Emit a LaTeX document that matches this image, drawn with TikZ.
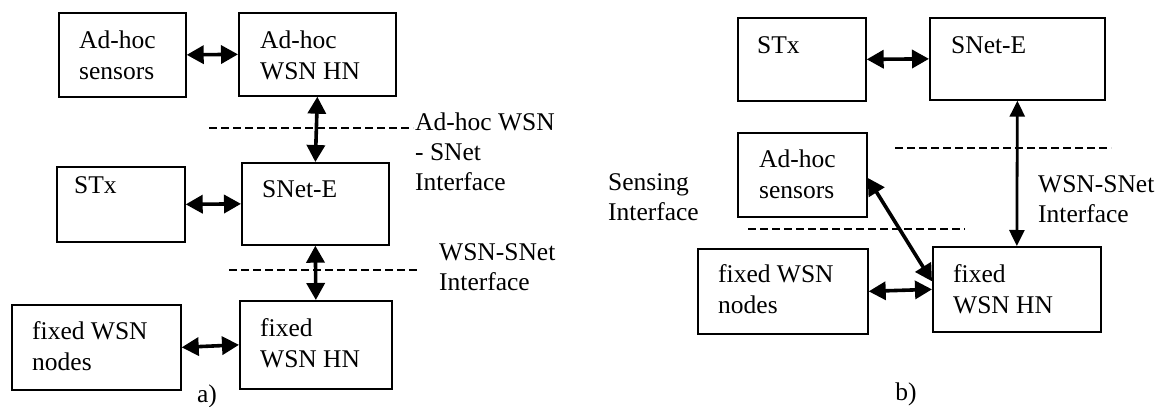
\documentclass[tikz,border=0pt]{standalone}
\usepackage{fontspec}
\setmainfont{Liberation Serif}
\usetikzlibrary{arrows.meta,calc}
\newcommand{\fst}{\rule{0pt}{18pt}}
\begin{document}
\begin{tikzpicture}[x=1pt,y=-1pt,
  box/.style={draw, line width=1.7pt, inner sep=0pt, anchor=north west},
  txt/.style={inner sep=0pt, anchor=north west, align=left, font=\fontsize{25.5}{31}\selectfont},
  lbl/.style={inner sep=0pt, anchor=north west, align=left, font=\fontsize{25.5}{30}\selectfont},
  lblb/.style={inner sep=0pt, anchor=north west, align=left, font=\fontsize{25.5}{30}\selectfont},
  link/.style={line width=3.6pt, {Triangle[length=17pt 0 0,width=18pt 0 0]}-{Triangle[length=17pt 0 0,width=18pt 0 0]}},
  linkthin/.style={line width=2.8pt, {Triangle[length=16pt 0 0,width=15pt 0 0]}-{Triangle[length=16pt 0 0,width=15pt 0 0]}},
  sep/.style={line width=2.2pt, dash pattern=on 8pt off 4pt}]
\useasboundingbox (0,0) rectangle (1165,407);
% ---- panel a ----
\node[box, minimum width=127pt, minimum height=84pt] (A1) at (58,12) {};
\node[txt] (tA1) at (79,30) {\fst Ad-hoc\\sensors};
\node[box, minimum width=157pt, minimum height=83pt] (A2) at (238,12) {};
\node[txt] (tA2) at (260,30) {\fst Ad-hoc\\WSN HN};
\node[box, minimum width=128pt, minimum height=75pt] (A3) at (56,166) {};
\node[txt] (tA3) at (74,175) {\fst STx};
\node[box, minimum width=147pt, minimum height=82pt] (A4) at (241,162) {};
\node[txt] (tA4) at (262,179) {\fst SNet-E};
\node[box, minimum width=169pt, minimum height=85pt] (A5) at (11,304) {};
\node[txt] (tA5) at (32,321) {\fst fixed WSN\\nodes};
\node[box, minimum width=152pt, minimum height=88pt] (A6) at (239,300) {};
\node[txt] (tA6) at (260,318) {\fst fixed\\WSN HN};
\draw[link] (A1.east) -- (A2.west);
\draw[link] (A3.east) -- (A4.west);
\draw[link] (A2.south) -- (A4.north);
\draw[link] (A4.south) -- (A6.north);
\draw[link] (A5.east) -- (A6.west);
\coordinate (d1a) at (209,128); \coordinate (d1b) at (413,128);
\coordinate (d2a) at (229,270); \coordinate (d2b) at (418,270);
\draw[sep] (d1a) -- (d1b);
\draw[sep] (d2a) -- (d2b);
\node[lbl] (la1) at (415,112) {\fst Ad-hoc WSN\\- SNet\\Interface};
\node[lbl] (la2) at (439,242) {\fst WSN-SNet\\Interface};
\node[inner sep=0pt, anchor=base, font=\fontsize{25.5}{30}\selectfont] (capa) at (207,402) {a)};
% ---- panel b ----
\node[box, minimum width=128pt, minimum height=83pt] (B1) at (737,17) {};
\node[txt] (tB1) at (757,35) {\fst STx};
\node[box, minimum width=175pt, minimum height=82pt] (B2) at (929,17) {};
\node[txt] (tB2) at (951,35) {\fst SNet-E};
\node[box, minimum width=129pt, minimum height=84pt] (B3) at (737,132) {};
\node[txt] (tB3) at (759,149) {\fst Ad-hoc\\sensors};
\node[box, minimum width=170pt, minimum height=85pt] (B4) at (697,248) {};
\node[txt] (tB4) at (718,264) {\fst fixed WSN\\nodes};
\node[box, minimum width=168pt, minimum height=85pt] (B5) at (932,246) {};
\node[txt] (tB5) at (953,264) {\fst fixed\\WSN HN};
\draw[link] (B1.east) -- (B2.west);
\draw[linkthin] (B2.south) -- (B5.north);
\draw[link] ($(B3.east)+(0,3)$) -- ($(B5.west)+(0,-8)$);
\draw[link] (B4.east) -- (B5.west);
\coordinate (d3a) at (895,148); \coordinate (d3b) at (1111,148);
\coordinate (d4a) at (748,229); \coordinate (d4b) at (965,229);
\draw[sep] (d3a) -- (d3b);
\draw[sep] (d4a) -- (d4b);
\node[lblb] (lb1) at (608,172) {\fst Sensing\\Interface};
\node[lblb] (lb2) at (1038,174) {\fst WSN-SNet\\Interface};
\node[inner sep=0pt, anchor=base, font=\fontsize{25.5}{30}\selectfont] (capb) at (906,400) {b)};
\end{tikzpicture}
\end{document}
